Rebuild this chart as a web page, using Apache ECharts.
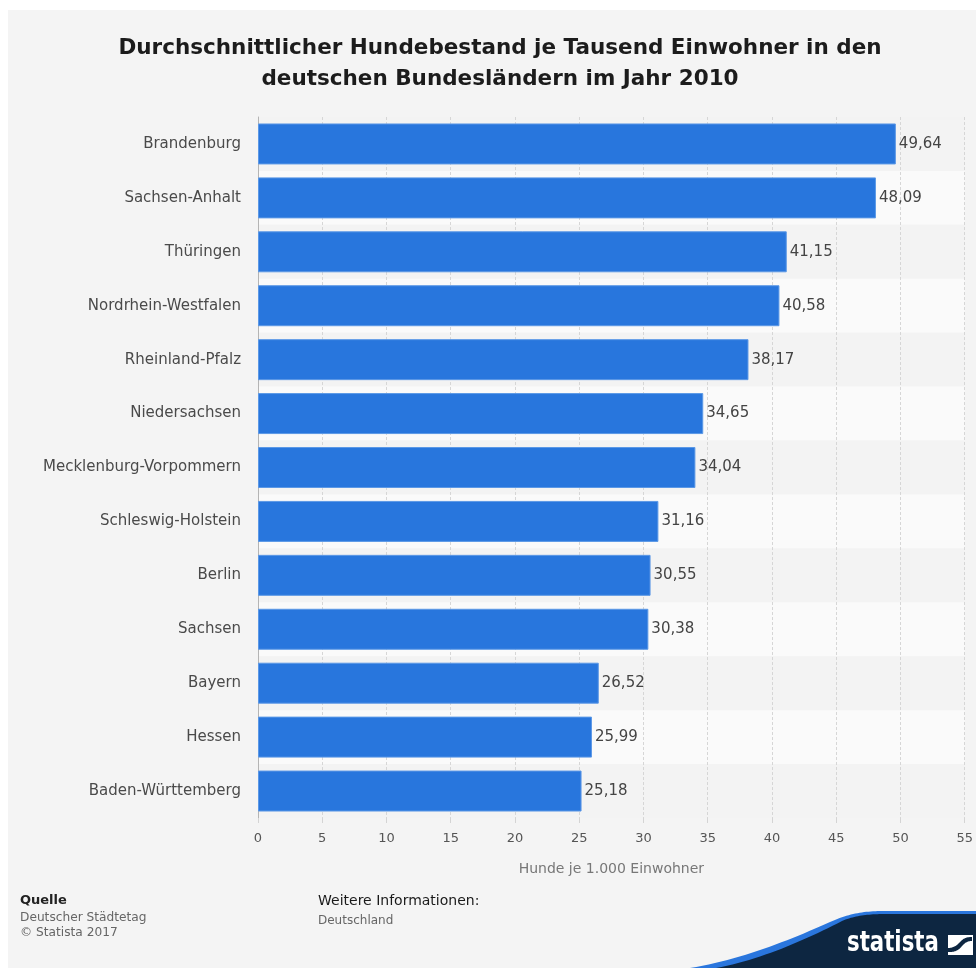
<!DOCTYPE html>
<html>
<head>
<meta charset="utf-8">
<script src="https://cdn.jsdelivr.net/npm/echarts@6/dist/echarts.min.js"></script>
<style>
  html, body { margin: 0; padding: 0; background: #ffffff; }
  #chart { width: 976px; height: 968px; }
</style>
</head>
<body>
<div id="chart"></div>
<script>
// Hunde je 1.000 Einwohner, Bundesländer 2010 (von oben nach unten)
const states = [
  'Brandenburg', 'Sachsen-Anhalt', 'Thüringen', 'Nordrhein-Westfalen',
  'Rheinland-Pfalz', 'Niedersachsen', 'Mecklenburg-Vorpommern',
  'Schleswig-Holstein', 'Berlin', 'Sachsen', 'Bayern', 'Hessen',
  'Baden-Württemberg'
];
const dogsPerThousand = [
  49.64, 48.09, 41.15, 40.58, 38.17, 34.65, 34.04,
  31.16, 30.55, 30.38, 26.52, 25.99, 25.18
];
const xTicks = { min: 0, max: 55, interval: 5 };

const titleText = 'Durchschnittlicher Hundebestand je Tausend Einwohner in den\ndeutschen Bundesländern im Jahr 2010';
const axisTitle = 'Hunde je 1.000 Einwohner';

const chart = echarts.init(document.getElementById('chart'), null, { renderer: 'canvas' });

const fontMain = '"DejaVu Sans", "Noto Sans", sans-serif';

// Umriss aus Geradenstücken und kubischen Bézierkurven als Punktliste
function outline(start, segments) {
  const pts = [start];
  let cur = start;
  segments.forEach(seg => {
    if (seg.length === 1) {
      pts.push(seg[0]);
      cur = seg[0];
    } else {
      const [c1, c2, end] = seg;
      for (let i = 1; i <= 24; i++) {
        const t = i / 24, u = 1 - t;
        pts.push([
          u * u * u * cur[0] + 3 * u * u * t * c1[0] + 3 * u * t * t * c2[0] + t * t * t * end[0],
          u * u * u * cur[1] + 3 * u * u * t * c1[1] + 3 * u * t * t * c2[1] + t * t * t * end[1]
        ]);
      }
      cur = end;
    }
  });
  return pts;
}

const waveBlue = outline([690, 968], [
  [[740, 960], [790, 940], [830, 922]],
  [[850, 913], [865, 911], [885, 911]],
  [[976, 911]], [[976, 968]]
]);
const waveNavy = outline([716, 968], [
  [[760, 960], [805, 940], [842, 921]],
  [[856, 915], [870, 914], [888, 914]],
  [[976, 914]], [[976, 968]]
]);
const iconSwoosh = outline([948, 952], [
  [[948, 948]],
  [[955, 948], [958, 944], [961, 941]],
  [[964, 938], [967, 937], [972, 937]],
  [[972, 941]],
  [[967, 941], [965, 943], [962, 946]],
  [[959, 950], [955, 952], [950, 952]]
]);

chart.setOption({
  backgroundColor: '#f4f4f4',
  animation: false,
  title: {
    text: titleText,
    left: 495,
    top: 28,
    textAlign: 'center',
    textStyle: {
      fontFamily: fontMain,
      fontSize: 21.5,
      fontWeight: 'bold',
      color: '#1c1c1c',
      lineHeight: 31
    }
  },
  grid: { left: 258, right: 11, top: 117, bottom: 150, containLabel: false },
  xAxis: {
    type: 'value',
    min: xTicks.min,
    max: xTicks.max,
    interval: xTicks.interval,
    name: axisTitle,
    nameLocation: 'middle',
    nameGap: 44,
    nameTextStyle: { fontFamily: fontMain, fontSize: 14, color: '#777' },
    axisLine: { show: false },
    axisTick: { show: true, length: 5, lineStyle: { color: '#d4d4d4' } },
    axisLabel: { fontFamily: fontMain, fontSize: 13, color: '#555', margin: 14 },
    splitLine: { show: true, lineStyle: { color: '#d6d6d6', type: [3, 2], width: 1 } }
  },
  yAxis: {
    type: 'category',
    data: states,
    inverse: true,
    axisLine: { show: true, lineStyle: { color: '#b4b4b4', width: 1 } },
    axisTick: { show: false },
    axisLabel: { fontFamily: fontMain, fontSize: 15, color: '#4a4a4a', margin: 17 },
    splitArea: { show: true, areaStyle: { color: ['#f3f3f3', '#fafafa'] } }
  },
  series: [{
    type: 'bar',
    data: dogsPerThousand,
    barCategoryGap: '24%',
    itemStyle: { color: '#2876dd', borderColor: '#5b98e6', borderWidth: 1 },
    label: {
      show: true,
      position: 'right',
      distance: 3,
      fontFamily: fontMain,
      fontSize: 15,
      color: '#444',
      formatter: p => p.value.toFixed(2).replace('.', ',')
    }
  }],
  graphic: [
    // weißer Rand oben und links
    { type: 'rect', shape: { x: 0, y: 0, width: 976, height: 10 }, style: { fill: '#ffffff' }, silent: true },
    { type: 'rect', shape: { x: 0, y: 0, width: 8, height: 968 }, style: { fill: '#ffffff' }, silent: true },
    // Quellenangabe
    { type: 'text', x: 20, y: 901, style: { text: 'Quelle', font: 'bold 13px ' + fontMain, fill: '#222', verticalAlign: 'middle' } },
    { type: 'text', x: 20, y: 918, style: { text: 'Deutscher Städtetag', font: '12.2px ' + fontMain, fill: '#666', verticalAlign: 'middle' } },
    { type: 'text', x: 20, y: 933, style: { text: '© Statista 2017', font: '12.2px ' + fontMain, fill: '#666', verticalAlign: 'middle' } },
    { type: 'text', x: 318, y: 901, style: { text: 'Weitere Informationen:', font: '14px ' + fontMain, fill: '#1a1a1a', verticalAlign: 'middle' } },
    { type: 'text', x: 318, y: 921, style: { text: 'Deutschland', font: '12px ' + fontMain, fill: '#666', verticalAlign: 'middle' } },
    // Logo-Welle unten rechts
    { type: 'polygon', shape: { points: waveBlue }, style: { fill: '#2a76dd' }, silent: true },
    { type: 'polygon', shape: { points: waveNavy }, style: { fill: '#0d2641' }, silent: true },
    { type: 'text', x: 847, y: 944, scaleX: 0.76, style: { text: 'statista', font: 'bold 28px ' + fontMain, fill: '#ffffff', verticalAlign: 'middle' } },
    // Logo-Symbol
    { type: 'rect', shape: { x: 948, y: 935, width: 25, height: 20 }, style: { fill: '#ffffff' } },
    { type: 'polygon', shape: { points: iconSwoosh }, style: { fill: '#0d2641' } }
  ]
});
</script>
</body>
</html>
